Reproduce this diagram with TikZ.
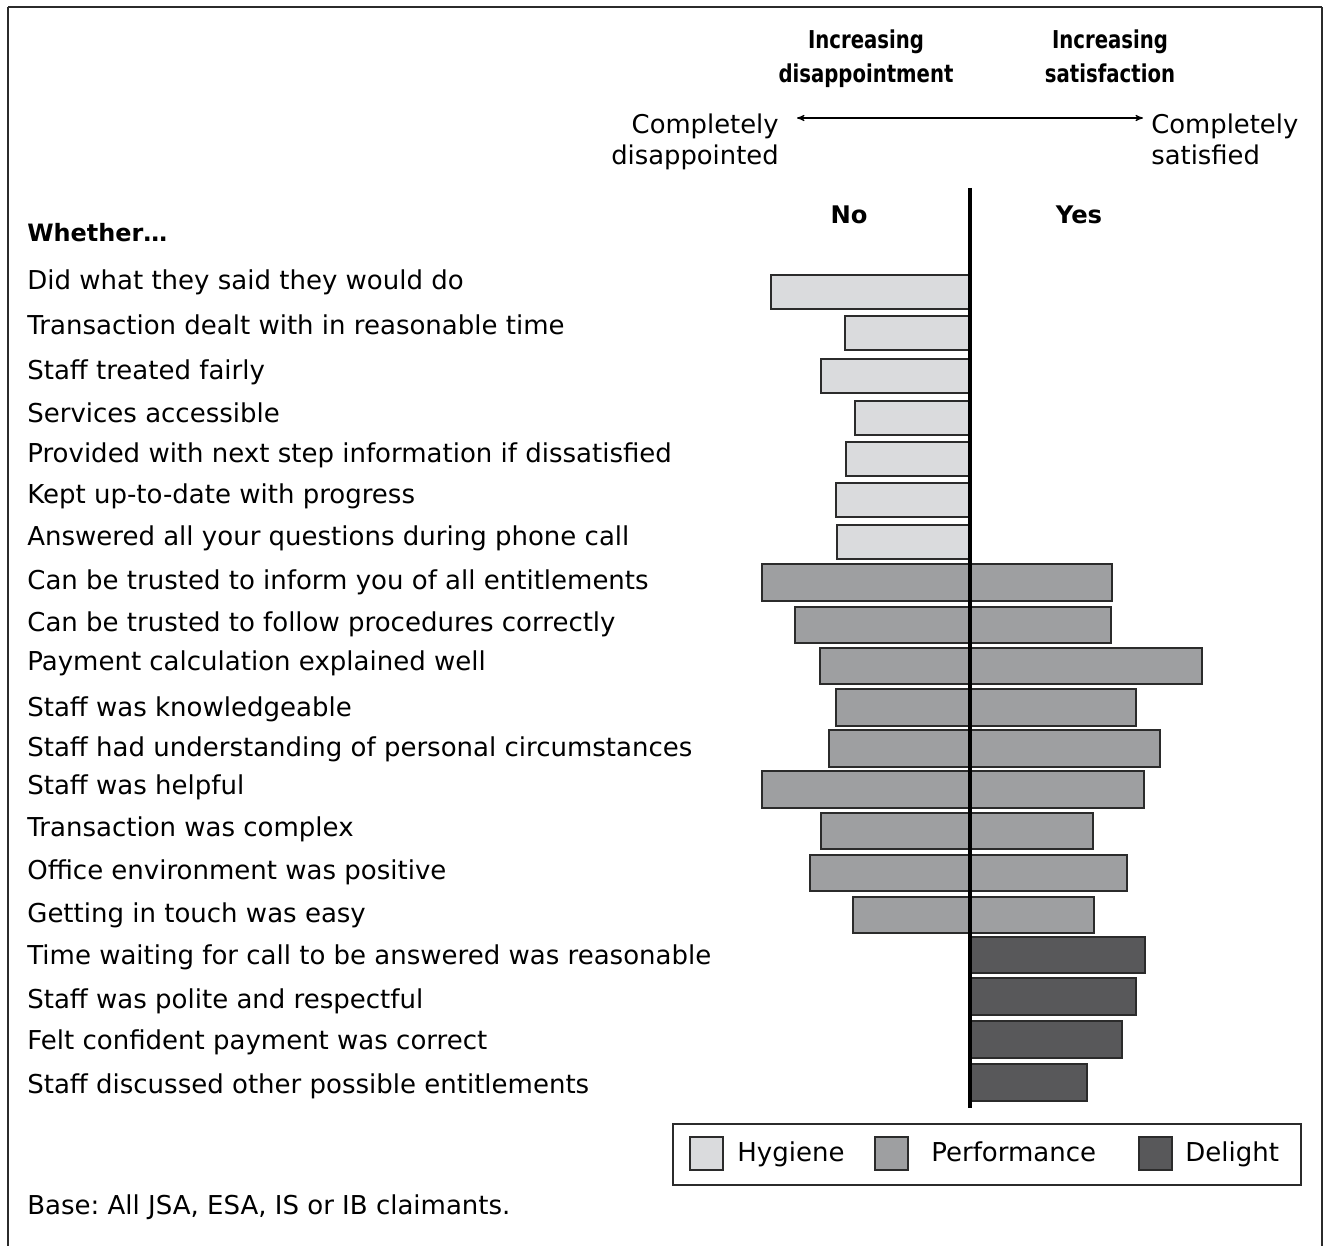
\documentclass[tikz,border=0pt]{standalone}
\usepackage{fontspec}
\setmainfont{DejaVu Sans}
\newfontfamily\hdfont[FakeStretch=0.8]{DejaVu Sans}
\usetikzlibrary{arrows}
\definecolor{hyg}{HTML}{DADBDD}
\definecolor{perf}{HTML}{9E9FA1}
\definecolor{deli}{HTML}{58585A}
\definecolor{edge}{HTML}{2B2B2B}
\tikzset{
  lbl/.style = {anchor=base west, inner sep=0pt,
    font=\fontsize{14.8}{17}\selectfont},
  hd/.style = {align=center, inner sep=0pt,
    font=\fontsize{14}{19.8}\selectfont\hdfont\bfseries},
  sub/.style = {inner sep=0pt, font=\fontsize{14.7}{17.6}\selectfont},
  bar_h/.style = {draw=edge, line width=0.8pt, fill=hyg},% hygiene
  bar_p/.style = {draw=edge, line width=0.8pt, fill=perf},% performance
  bar_d/.style = {draw=edge, line width=0.8pt, fill=deli},% delight
}
\frenchspacing

\begin{document}
\begin{tikzpicture}[x=0.02cm,y=-0.02cm,>=stealth']
\useasboundingbox (0,0) rectangle (1324,1246);
% frame, open at the bottom
\draw[edge, line width=1.7pt] (8,1246) -- (8,7);
\draw[edge, line width=1.4pt] (8,7) -- (1322,7);
\draw[edge, line width=0.8pt] (1322,7) -- (1322,1246);

% header
\node [hd, anchor=north] (dis) at (866,29) {Increasing\\disappointment};
\node [hd, anchor=north] (sat) at (1110,29) {Increasing\\satisfaction};
\node [sub, anchor=north east, align=right] (cdis) at (779,114) {Completely\\disappointed};
\node [sub, anchor=north west, align=left] (csat) at (1151,114) {Completely\\satisfied};
\coordinate (al) at (797,118);
\coordinate (ar) at (1143,118);
\draw [<->, line width=0.6pt] (al) -- (ar);
\node [font=\fontsize{13.8}{16}\selectfont\bfseries] (no) at (849,215) {No};
\node [font=\fontsize{13.8}{16}\selectfont\bfseries] (yes) at (1079,215) {Yes};
\node [lbl, font=\fontsize{13.6}{16}\selectfont\bfseries] (whe) at (27,242) {Whether…};

% statements
\foreach \y/\t [count=\i] in {
  282/Did what they said they would do,
  327/Transaction dealt with in reasonable time,
  371/Staff treated fairly,
  414/Services accessible,
  454/Provided with next step information if dissatisfied,
  495/Kept up-to-date with progress,
  537/Answered all your questions during phone call,
  581/Can be trusted to inform you of all entitlements,
  623/Can be trusted to follow procedures correctly,
  662/Payment calculation explained well,
  708/Staff was knowledgeable,
  748/Staff had understanding of personal circumstances,
  786/Staff was helpful,
  828/Transaction was complex,
  871/Office environment was positive,
  914/Getting in touch was easy,
  956/Time waiting for call to be answered was reasonable,
  1000/Staff was polite and respectful,
  1041/Felt confident payment was correct,
  1085/Staff discussed other possible entitlements}
  \node [lbl] (q\i) at (27,\y+8) {\t};

% bars
\foreach \l/\r/\t/\b in {771/970/275/309, 845/970/316/350, 821/970/359/393,
  855/970/401/435, 846/970/442/476, 836/970/483/517, 837/970/525/559}
  \draw [bar_h] (\l,\t) rectangle (\r,\b);
\foreach \l/\r/\t/\b in {762/1112/564/601, 795/1111/607/643, 820/1202/648/684,
  836/1136/689/726, 829/1160/730/767, 762/1144/771/808, 821/1093/813/849,
  810/1127/855/891, 853/1094/897/933}
  \draw [bar_p] (\l,\t) rectangle (\r,\b);
\foreach \l/\r/\t/\b in {970/1145/937/973, 970/1136/978/1015,
  970/1122/1021/1058, 970/1087/1064/1101}
  \draw [bar_d] (\l,\t) rectangle (\r,\b);
\draw [line width=2.3pt] (970,188) -- (970,1108);

% legend
\draw [edge, line width=0.8pt] (673,1124) rectangle (1301,1185);
\draw [bar_h] (690,1137) rectangle (723,1170);
\node [lbl] (lh) at (737,1161) {Hygiene};
\draw [bar_p] (875,1137) rectangle (908,1170);
\node [lbl] (lp) at (931,1161) {Performance};
\draw [bar_d] (1139,1137) rectangle (1172,1170);
\node [lbl] (ld) at (1185,1161) {Delight};

\node [lbl] (base) at (27,1214) {Base: All JSA, ESA, IS or IB claimants.};
\end{tikzpicture}
\end{document}
